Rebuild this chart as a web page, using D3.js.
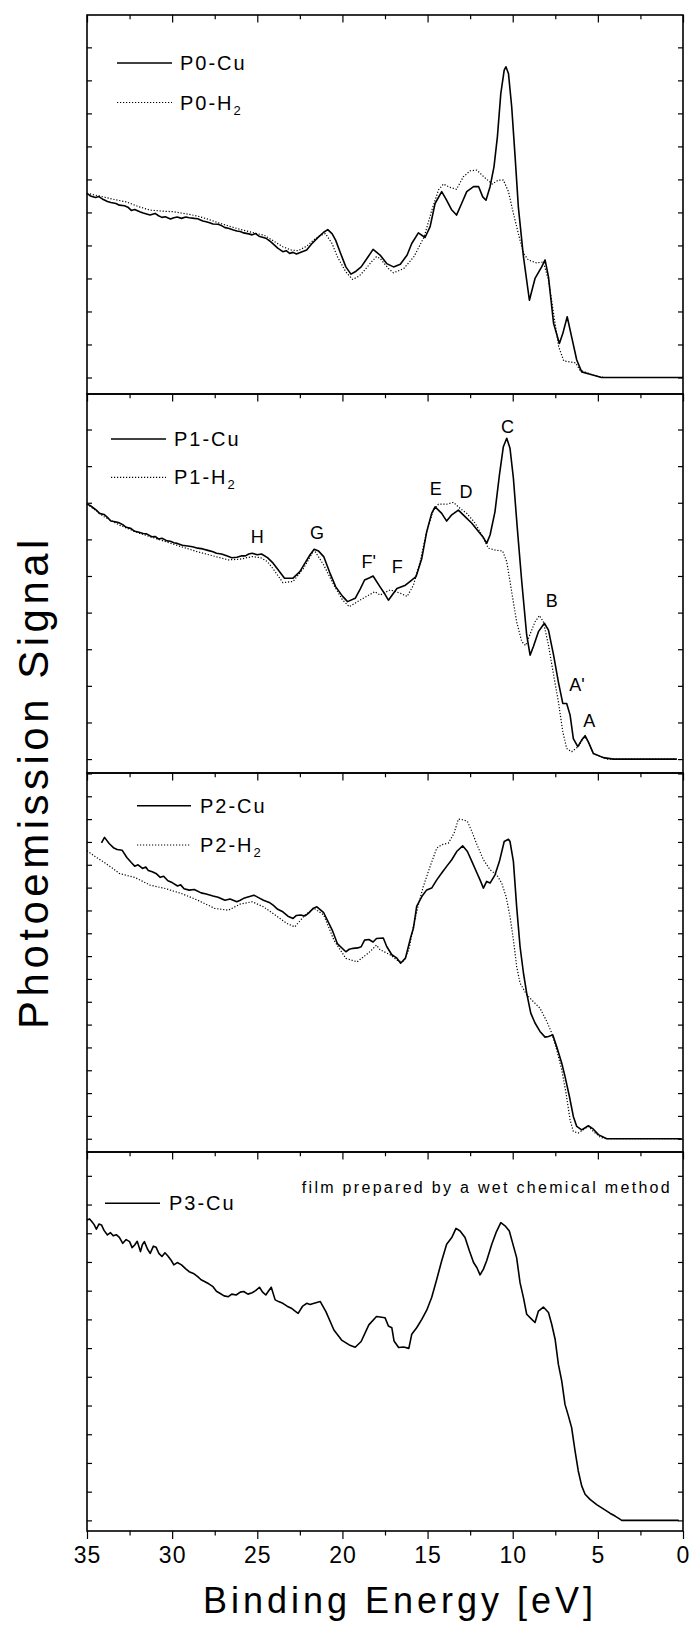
<!DOCTYPE html>
<html>
<head>
<meta charset="utf-8">
<script src="https://cdn.jsdelivr.net/npm/d3@7"></script>
<style>
  body { margin: 0; background: #fff; }
  svg { display: block; }
  text { font-family: "Liberation Sans", Arial, sans-serif; fill: #000; }
</style>
</head>
<body>
<svg id="chart" width="691" height="1625"></svg>
<script>
// spectra: [binding energy (eV), signal (panel units)]
const p0Cu = [[35,5.58],[34.8,5.5],[34.5,5.45],[34.3,5.48],[34.04,5.39],[33.8,5.33],[33.6,5.3],[33.3,5.27],[33.1,5.22],[32.8,5.2],[32.6,5.16],[32.4,5.06],[32.2,5.09],[31.9,5.02],[31.7,4.98],[31.5,4.95],[31.3,4.92],[31.0,4.97],[30.8,4.9],[30.6,4.85],[30.4,4.87],[30.1,4.8],[29.9,4.84],[29.7,4.86],[29.45,4.82],[29.2,4.86],[29,4.84],[28.7,4.82],[28.5,4.81],[28.2,4.74],[28,4.72],[27.8,4.69],[27.6,4.65],[27.3,4.64],[27.1,4.6],[26.9,4.54],[26.7,4.52],[26.4,4.47],[26.2,4.44],[26.0,4.42],[25.8,4.38],[25.5,4.35],[25.3,4.32],[25.1,4.36],[24.9,4.28],[24.7,4.25],[24.5,4.22],[24.2,4.11],[23.8,3.92],[23.5,3.81],[23.3,3.84],[23.1,3.76],[22.9,3.79],[22.7,3.74],[22.4,3.8],[22.1,3.86],[21.8,4.05],[21.4,4.26],[21.1,4.4],[20.86,4.48],[20.6,4.35],[20.4,4.16],[20.1,3.75],[19.8,3.35],[19.5,3.13],[19.2,3.22],[18.9,3.35],[18.5,3.65],[18.2,3.88],[17.79,3.71],[17.4,3.45],[17.0,3.35],[16.6,3.43],[16.2,3.71],[15.93,4.06],[15.54,4.38],[15.15,4.24],[14.85,4.57],[14.56,5.27],[14.17,5.63],[13.9,5.39],[13.6,5.09],[13.3,4.92],[13.0,5.27],[12.7,5.63],[12.3,5.78],[12.0,5.78],[11.76,5.47],[11.57,5.37],[11.33,5.78],[11.1,6.38],[10.9,7.29],[10.7,8.6],[10.5,9.31],[10.4,9.41],[10.25,9.21],[10.06,8.2],[9.86,6.69],[9.67,5.17],[9.37,3.66],[9.02,2.34],[8.69,3.0],[8.3,3.35],[8.1,3.56],[7.9,3.05],[7.6,1.64],[7.26,1.03],[7.06,1.33],[6.8,1.84],[6.54,1.23],[6.24,0.53],[5.95,0.17],[5.46,0.1],[4.78,0],[0,0]];
const p0H2 = [[35,5.58],[34.04,5.47],[33.3,5.38],[32.7,5.32],[32.0,5.18],[31.3,5.07],[30.6,5.04],[29.9,5.02],[29.2,4.96],[28.5,4.89],[27.8,4.78],[27.2,4.67],[26.5,4.56],[25.8,4.46],[25.2,4.38],[24.6,4.31],[24.0,4.12],[23.5,3.96],[23.0,3.86],[22.6,3.84],[22.1,3.98],[21.7,4.16],[21.3,4.3],[21.0,4.36],[20.6,4.05],[20.3,3.66],[19.8,3.2],[19.4,2.97],[19.0,3.08],[18.7,3.25],[18.3,3.5],[18.0,3.66],[17.79,3.61],[17.3,3.3],[17.0,3.17],[16.4,3.3],[15.8,3.66],[15.2,4.26],[14.75,5.07],[14.36,5.68],[14.07,5.86],[13.7,5.76],[13.3,5.7],[12.9,6.08],[12.5,6.26],[12.1,6.28],[11.7,6.08],[11.2,5.86],[10.84,5.98],[10.55,5.98],[10.25,5.63],[9.96,4.97],[9.67,4.36],[9.37,3.76],[9.08,3.56],[8.6,3.47],[8.2,3.5],[7.9,2.95],[7.6,1.94],[7.3,0.93],[7.0,0.5],[6.6,0.47],[6.3,0.44],[6.05,0.22],[5.26,0.07],[4.68,0],[0,0]];

const p1Cu = [[35,6.97],[34.8,6.92],[34.6,6.85],[34.45,6.8],[34.27,6.71],[34.0,6.68],[33.8,6.6],[33.6,6.5],[33.35,6.48],[33.1,6.45],[32.9,6.4],[32.7,6.33],[32.43,6.3],[32.2,6.22],[32,6.2],[31.7,6.16],[31.5,6.15],[31.2,6.07],[31,6.08],[30.8,6.01],[30.6,6.03],[30.3,5.96],[30.1,5.95],[29.9,5.91],[29.7,5.89],[29.4,5.84],[29.1,5.82],[28.8,5.8],[28.5,5.76],[28.2,5.74],[27.9,5.7],[27.6,5.66],[27.4,5.62],[27.1,5.6],[26.8,5.55],[26.5,5.5],[26.2,5.51],[25.9,5.55],[25.7,5.55],[25.5,5.6],[25.3,5.62],[25.0,5.58],[24.75,5.6],[24.4,5.5],[24.07,5.35],[23.7,5.12],[23.4,4.94],[22.9,4.94],[22.5,5.12],[22.2,5.35],[21.9,5.58],[21.66,5.73],[21.4,5.68],[21.1,5.53],[20.75,5.1],[20.4,4.71],[20.0,4.45],[19.7,4.3],[19.25,4.39],[18.95,4.65],[18.7,4.89],[18.4,4.95],[18.2,5.0],[17.8,4.71],[17.5,4.5],[17.3,4.34],[16.8,4.66],[16.3,4.75],[15.93,4.89],[15.68,4.98],[15.34,5.48],[15.05,6.21],[14.76,6.71],[14.56,6.89],[14.17,6.71],[13.88,6.5],[13.58,6.67],[13.19,6.8],[12.8,6.62],[12.4,6.44],[12.0,6.21],[11.72,6.05],[11.53,5.89],[11.33,6.12],[11.04,6.76],[10.78,7.76],[10.55,8.53],[10.35,8.76],[10.16,8.49],[9.96,7.67],[9.73,6.3],[9.47,4.85],[9.18,3.39],[8.98,2.84],[8.79,3.07],[8.49,3.48],[8.14,3.71],[7.9,3.52],[7.6,2.84],[7.32,2.11],[7.06,1.52],[6.83,1.52],[6.63,1.2],[6.44,0.56],[6.18,0.34],[5.95,0.52],[5.75,0.64],[5.56,0.47],[5.26,0.15],[4.68,0.04],[4.09,0],[0.37,0]];
const p1H2 = [[35,6.97],[34,6.62],[33.1,6.39],[32,6.18],[30.8,6.0],[29.6,5.82],[28.5,5.66],[27.6,5.55],[26.7,5.44],[26,5.46],[25.3,5.53],[24.8,5.5],[24.4,5.39],[24,5.15],[23.5,4.82],[22.9,4.85],[22.3,5.2],[21.66,5.71],[21.1,5.3],[20.5,4.75],[20,4.35],[19.6,4.16],[18.9,4.36],[18.1,4.57],[17.79,4.48],[17.2,4.62],[16.6,4.53],[16.2,4.44],[15.83,4.75],[15.44,5.39],[15.05,6.21],[14.66,6.8],[14.36,6.96],[13.88,6.96],[13.48,7.01],[13.1,6.85],[12.7,6.71],[12.2,6.44],[11.82,6.12],[11.43,5.76],[11.04,5.71],[10.59,5.68],[10.35,5.39],[10.06,4.57],[9.77,3.75],[9.47,3.21],[9.24,3.1],[8.98,3.41],[8.69,3.75],[8.43,3.92],[8.2,3.75],[7.9,3.11],[7.6,2.3],[7.32,1.57],[7.06,0.75],[6.83,0.29],[6.54,0.2],[6.15,0.34],[5.81,0.61],[5.62,0.52],[5.26,0.15],[4.48,0],[0.37,0]];

const p2Cu = [[34.15,12.96],[33.97,13.2],[33.7,12.93],[33.45,12.75],[33.23,12.67],[32.94,12.64],[32.66,12.32],[32.4,12.1],[32.2,11.94],[32.0,12.0],[31.74,11.84],[31.55,11.9],[31.4,11.75],[31.17,11.69],[30.95,11.62],[30.7,11.45],[30.5,11.5],[30.25,11.3],[30.0,11.22],[29.68,11.07],[29.5,11.12],[29.3,10.95],[29.0,10.89],[28.7,10.92],[28.3,10.77],[28.0,10.72],[27.6,10.63],[27.3,10.58],[26.9,10.45],[26.6,10.5],[26.2,10.38],[26.0,10.45],[25.8,10.53],[25.5,10.6],[25.2,10.67],[24.9,10.55],[24.64,10.45],[24.3,10.35],[24.07,10.23],[23.8,10.05],[23.5,9.94],[23.2,9.75],[22.9,9.65],[22.7,9.78],[22.46,9.8],[22.2,9.76],[22.0,9.87],[21.7,10.1],[21.5,10.16],[21.1,9.9],[20.6,9.14],[20.3,8.55],[19.8,8.19],[19.6,8.3],[19.37,8.34],[19.1,8.36],[18.9,8.41],[18.7,8.7],[18.45,8.73],[18.2,8.62],[18.0,8.77],[17.6,8.79],[17.4,8.42],[17.1,8.06],[16.8,7.91],[16.58,7.69],[16.3,7.91],[16.0,8.79],[15.83,9.23],[15.64,10.18],[15.34,10.61],[15.05,10.9],[14.76,10.98],[14.46,11.34],[14.17,11.64],[13.88,11.93],[13.58,12.22],[13.29,12.58],[12.94,12.83],[12.66,12.58],[12.4,12.15],[12.1,11.64],[11.92,11.34],[11.72,10.98],[11.53,11.27],[11.33,11.2],[11.04,11.56],[10.78,12.15],[10.5,13.02],[10.25,13.12],[10.16,13.02],[9.96,12.15],[9.77,10.18],[9.57,8.42],[9.37,7.26],[9.18,6.38],[8.94,5.5],[8.69,5.07],[8.4,4.7],[8.1,4.45],[7.9,4.48],[7.65,4.55],[7.42,4.04],[7.12,3.31],[6.93,2.73],[6.67,1.85],[6.44,0.98],[6.24,0.54],[5.95,0.39],[5.56,0.57],[5.26,0.42],[4.97,0.18],[4.48,0],[0.08,0]];
const p2H2 = [[35,12.61],[34.5,12.35],[34.04,12.13],[33.5,11.85],[33.1,11.62],[32.6,11.52],[32.2,11.45],[31.3,11.11],[30.4,10.96],[29.45,10.74],[28.5,10.45],[27.5,10.09],[26.7,10.01],[26.0,10.28],[25.3,10.38],[24.64,10.16],[23.95,9.8],[23.26,9.43],[22.8,9.28],[22.2,9.8],[21.66,10.09],[21.1,9.8],[20.5,8.7],[19.8,7.9],[19.14,7.75],[18.45,8.15],[18.0,8.48],[17.79,8.28],[17.2,8.06],[16.7,7.77],[16.4,7.77],[16.1,8.28],[15.83,9.3],[15.54,10.25],[15.25,11.05],[14.85,11.93],[14.46,12.73],[14.17,12.88],[13.78,12.95],[13.44,13.39],[13.19,14.0],[12.9,13.97],[12.66,13.9],[12.4,13.46],[12.1,12.88],[11.72,12.22],[11.33,11.78],[10.94,11.56],[10.65,11.2],[10.39,10.61],[10.16,9.74],[9.96,8.72],[9.77,7.55],[9.57,6.82],[9.18,6.31],[8.79,6.01],[8.4,5.72],[8.0,5.14],[7.71,4.63],[7.42,3.9],[7.12,3.02],[6.87,2.0],[6.63,0.83],[6.44,0.32],[6.15,0.25],[5.81,0.42],[5.56,0.54],[5.26,0.32],[4.87,0.07],[4.48,0],[0.08,0]];

const p3Cu = [[35,10.46],[34.85,10.5],[34.72,10.41],[34.58,10.3],[34.45,10.14],[34.3,10.32],[34.15,10.29],[34.0,10.1],[33.8,9.94],[33.62,10.02],[33.46,9.91],[33.28,9.95],[33.1,9.86],[32.9,9.65],[32.7,9.78],[32.5,9.71],[32.35,9.5],[32.2,9.59],[32.05,9.72],[31.86,9.36],[31.75,9.6],[31.63,9.71],[31.45,9.45],[31.29,9.3],[31.1,9.55],[30.94,9.51],[30.78,9.3],[30.6,9.19],[30.42,9.32],[30.25,9.21],[30.05,9.05],[29.9,8.9],[29.7,8.98],[29.45,8.9],[29.2,8.76],[29.0,8.66],[28.75,8.6],[28.5,8.49],[28.3,8.38],[28.1,8.32],[27.85,8.24],[27.6,8.14],[27.4,7.98],[27.2,7.91],[26.95,7.82],[26.7,7.79],[26.5,7.88],[26.24,7.85],[26.0,7.95],[25.8,7.97],[25.55,7.88],[25.3,7.93],[25.1,8.0],[24.87,8.12],[24.7,7.96],[24.5,7.85],[24.35,7.98],[24.18,8.12],[23.95,7.68],[23.75,7.62],[23.5,7.56],[23.25,7.46],[23.0,7.39],[22.8,7.3],[22.6,7.21],[22.35,7.45],[22.1,7.56],[21.9,7.52],[21.66,7.56],[21.3,7.62],[20.97,7.27],[20.5,6.63],[20.05,6.28],[19.6,6.11],[19.25,6.03],[18.9,6.23],[18.45,6.81],[18.0,7.1],[17.5,7.06],[17.3,6.77],[17.1,6.71],[16.97,6.25],[16.7,6.02],[16.4,6.04],[16.1,5.99],[15.93,6.48],[15.64,6.71],[15.34,7.0],[15.05,7.32],[14.76,7.76],[14.46,8.4],[14.17,9.04],[13.88,9.62],[13.58,9.85],[13.33,10.17],[13.09,10.08],[12.8,9.85],[12.54,9.38],[12.3,8.98],[12.1,8.8],[11.92,8.55],[11.72,8.75],[11.53,9.04],[11.23,9.62],[10.98,10.02],[10.7,10.37],[10.45,10.26],[10.2,10.08],[9.96,9.56],[9.77,9.15],[9.57,8.28],[9.37,7.76],[9.18,7.18],[8.88,7.0],[8.69,6.89],[8.49,7.29],[8.2,7.43],[7.9,7.24],[7.71,6.83],[7.51,6.31],[7.32,5.44],[7.12,4.85],[6.93,4.04],[6.73,3.64],[6.54,3.23],[6.34,2.42],[6.15,1.72],[5.95,1.2],[5.75,0.91],[5.46,0.73],[5.07,0.55],[4.68,0.4],[4.29,0.25],[3.99,0.15],[3.75,0.06],[3.6,0],[0.25,0]];

// peak labels on the P1 panel: [text, energy, signal at baseline]
const peakLabels = [["H",25.0,5.91],["G",21.49,6.0],["F'",18.45,5.21],["F",16.78,5.07],["E",14.52,7.21],["D",12.74,7.14],["C",10.31,8.91],["B",7.71,4.16],["A'",6.22,1.86],["A",5.5,0.88]];

const xMajor = [35, 30, 25, 20, 15, 10, 5, 0];
const xMinor = [32.5, 27.5, 22.5, 17.5, 12.5, 7.5, 2.5];

// panel setup: y domain is in tick units, ticks at every integer
const panels = [
  { series: [{ d: p0Cu, name: "P0-Cu" }, { d: p0H2, name: "P0-H", dotted: true }], yDomain: [-0.5, 10.98], nTicks: 10,
    legend: { x1: 117, x2: 172, tx: 180, y: [48, 87.5] } },
  { series: [{ d: p1Cu, name: "P1-Cu" }, { d: p1H2, name: "P1-H", dotted: true }], yDomain: [-0.38, 9.97], nTicks: 9,
    legend: { x1: 111, x2: 166, tx: 174, y: [45, 83.3] }, labels: peakLabels },
  { series: [{ d: p2Cu, name: "P2-Cu" }, { d: p2H2, name: "P2-H", dotted: true }], yDomain: [-0.58, 16.02], nTicks: 16,
    legend: { x1: 137, x2: 191, tx: 200, y: [32.7, 72] } },
  { series: [{ d: p3Cu, name: "P3-Cu" }], yDomain: [-0.37, 12.83], nTicks: 12,
    legend: { x1: 105, x2: 160, tx: 169, y: [51.3] }, note: "film prepared by a wet chemical method" }
];

const margin = { left: 87, top: 15 },
      width = 596,
      panelH = 379;

const svg = d3.select("#chart");
const x = d3.scaleLinear().domain([35, 0]).range([0, width]);

panels.forEach((p, i) => {
  const g = svg.append("g")
      .attr("transform", `translate(${margin.left},${margin.top + i * panelH})`);

  const y = d3.scaleLinear().domain(p.yDomain).range([panelH, 0]);
  const yTicks = d3.range(0, p.nTicks + 1);

  // ticks on top edge, pointing into the panel
  g.append("g").call(d3.axisTop(x).tickValues(xMajor).tickSize(-7.5).tickFormat(""));
  g.append("g").call(d3.axisTop(x).tickValues(xMinor).tickSize(-4.3).tickFormat(""));
  // y ticks on both sides, inward
  g.append("g").call(d3.axisLeft(y).tickValues(yTicks).tickSize(-5).tickFormat(""));
  g.append("g").attr("transform", `translate(${width},0)`)
    .call(d3.axisRight(y).tickValues(yTicks).tickSize(-5).tickFormat(""));
  g.selectAll(".domain").remove();
  g.selectAll(".tick line").attr("stroke", "#000").attr("stroke-width", 1.2);

  const line = d3.line().x(d => x(d[0])).y(d => y(d[1]));

  p.series.forEach(s => {
    g.append("path")
      .datum(s.d)
      .attr("fill", "none")
      .attr("stroke", "#000")
      .attr("stroke-width", s.dotted ? 1.2 : 1.6)
      .attr("stroke-dasharray", s.dotted ? "1.2,1.8" : null)
      .attr("stroke-linejoin", "round")
      .attr("d", line);
  });

  g.append("rect")
    .attr("width", width).attr("height", panelH)
    .attr("fill", "none").attr("stroke", "#000").attr("stroke-width", 1.6);

  // legend
  const lg = svg.append("g").attr("transform", `translate(0,${margin.top + i * panelH})`);
  p.series.forEach((s, k) => {
    const ly = p.legend.y[k];
    lg.append("line")
      .attr("x1", p.legend.x1).attr("x2", p.legend.x2)
      .attr("y1", ly).attr("y2", ly)
      .attr("stroke", "#000")
      .attr("stroke-width", s.dotted ? 1.2 : 1.6)
      .attr("stroke-dasharray", s.dotted ? "1.2,1.8" : null);
    const t = lg.append("text")
      .attr("x", p.legend.tx).attr("y", ly + 7)
      .style("font-size", "20px").style("letter-spacing", "2px")
      .text(s.name);
    if (s.dotted) {
      t.append("tspan").attr("dy", 5).style("font-size", "13px").text("2");
    }
  });

  if (p.note) {
    lg.append("text")
      .attr("x", 672).attr("y", 41)
      .attr("text-anchor", "end")
      .style("font-size", "16px").style("letter-spacing", "2.3px")
      .text(p.note);
  }

  if (p.labels) {
    g.selectAll(".peak")
      .data(p.labels)
      .join("text")
      .attr("class", "peak")
      .attr("x", d => x(d[1]))
      .attr("y", d => y(d[2]))
      .attr("text-anchor", "middle")
      .style("font-size", "18px")
      .text(d => d[0]);
  }
});

// bottom energy axis
const bottom = margin.top + panels.length * panelH;
const ax = svg.append("g").attr("transform", `translate(${margin.left},${bottom})`);
ax.append("g").call(d3.axisBottom(x).tickValues(xMinor).tickSize(4.5).tickFormat(""));
const major = ax.append("g").call(d3.axisBottom(x).tickValues(xMajor).tickSize(8).tickFormat(d3.format("d")));
ax.selectAll(".domain").remove();
ax.selectAll(".tick line").attr("stroke", "#000").attr("stroke-width", 1.2);
major.selectAll(".tick text")
  .attr("y", 32).attr("dy", null)
  .attr("fill", "#000")
  .style("font-family", '"Liberation Sans", Arial, sans-serif')
  .style("font-size", "23px")
  .style("letter-spacing", "1px");

svg.append("text")
  .attr("x", 400).attr("y", 1613)
  .attr("text-anchor", "middle")
  .style("font-size", "36px").style("letter-spacing", "4px")
  .text("Binding Energy [eV]");

svg.append("text")
  .attr("transform", "translate(48,782) rotate(-90)")
  .attr("text-anchor", "middle")
  .style("font-size", "42px").style("letter-spacing", "4.5px")
  .text("Photoemission Signal");
</script>
</body>
</html>
